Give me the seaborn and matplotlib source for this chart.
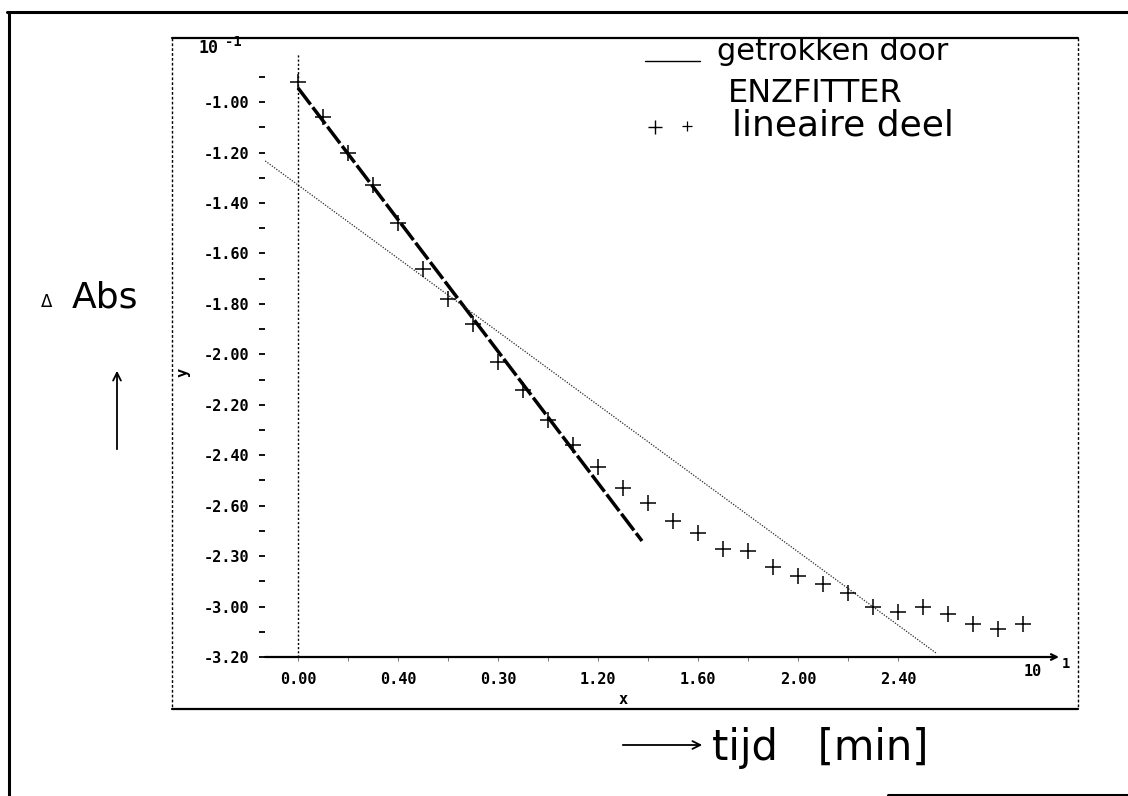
import matplotlib
matplotlib.use("Agg")
import matplotlib.pyplot as plt
from matplotlib.lines import Line2D
from matplotlib.patches import FancyArrowPatch
from matplotlib.ticker import FixedLocator, FixedFormatter
import pandas as pd
import seaborn as sns

# measured points (x in units of 10 min, y in units of 0.1 Abs)
time_x = [0.0, 0.1, 0.2, 0.3, 0.4, 0.5, 0.6, 0.7, 0.8, 0.9,
          1.0, 1.1, 1.2, 1.3, 1.4, 1.5, 1.6, 1.7, 1.8, 1.9,
          2.0, 2.1, 2.2, 2.3, 2.4, 2.5, 2.6, 2.7, 2.8, 2.9]
abs_y = [-0.92, -1.06, -1.20, -1.33, -1.48, -1.66, -1.78, -1.88, -2.03, -2.14,
         -2.26, -2.36, -2.445, -2.53, -2.59, -2.66, -2.71, -2.77, -2.78, -2.845,
         -2.88, -2.91, -2.945, -3.00, -3.02, -3.00, -3.03, -3.07, -3.09, -3.07]

# fitted lines
linear_x = [0.0, 1.376]
linear_y = [-0.944, -2.74]
enzfit_x = [-0.14, 2.556]
enzfit_y = [-1.227, -3.187]

# tick labels as printed on the scan
y_ticks = [-3.2, -3.0, -2.8, -2.6, -2.4, -2.2, -2.0, -1.8, -1.6, -1.4, -1.2, -1.0]
y_labels = ["-3.20", "-3.00", "-2.30", "-2.60", "-2.40", "-2.20", "-2.00",
            "-1.80", "-1.60", "-1.40", "-1.20", "-1.00"]
y_minor = [-3.1, -2.9, -2.7, -2.5, -2.3, -2.1, -1.9, -1.7, -1.5, -1.3, -1.1, -0.9]
x_ticks = [0.0, 0.4, 0.8, 1.2, 1.6, 2.0, 2.4]
x_labels = ["0.00", "0.40", "0.30", "1.20", "1.60", "2.00", "2.40"]
x_minor = [0.2, 0.6, 1.0, 1.4, 1.8, 2.2]

W, H = 1128, 796


def px(x, y):
    # pixel position -> figure fraction
    return x / W, 1 - y / H


sns.set_style("white")
plt.rcParams.update({"text.color": "black", "axes.labelcolor": "black",
                     "xtick.color": "black", "ytick.color": "black"})
mono = "DejaVu Sans Mono"
hand = "DejaVu Sans"

fig = plt.figure(figsize=(W / 100, H / 100), dpi=100)
ax = fig.add_axes([265 / W, 1 - 657 / H, 794 / W, 617 / H])

points = pd.DataFrame({"x": time_x, "y": abs_y})
sns.scatterplot(data=points, x="x", y="y", marker="+", s=130, color="black",
                linewidth=1.1, ax=ax, zorder=3)
sns.lineplot(x=linear_x, y=linear_y, color="black", lw=2.5, ax=ax,
             linestyle=(0, (6, 1.0)))
sns.lineplot(x=enzfit_x, y=enzfit_y, color="#2a2a2a", lw=0.9, ax=ax,
             linestyle=(0, (1, 1.2)))
ax.axvline(0, ymax=0.979, color="black", lw=1.0, linestyle=(0, (1.5, 1.5)))

ax.set_xlim(-0.132, 3.044)
ax.set_ylim(-3.20, -0.754)
for s in ax.spines.values():
    s.set_visible(False)

# x axis drawn as an arrow
ax.annotate("", xy=(1, 0), xytext=(0, 0), xycoords="axes fraction",
            arrowprops=dict(arrowstyle="->", lw=1.6, color="black",
                            shrinkA=0, shrinkB=0, mutation_scale=10))

ax.yaxis.set_major_locator(FixedLocator(y_ticks))
ax.yaxis.set_major_formatter(FixedFormatter(y_labels))
ax.yaxis.set_minor_locator(FixedLocator(y_minor))
ax.xaxis.set_major_locator(FixedLocator(x_ticks))
ax.xaxis.set_major_formatter(FixedFormatter(x_labels))
ax.xaxis.set_minor_locator(FixedLocator(x_minor))
ax.tick_params(axis="y", which="both", left=True, length=4, width=1.3,
               direction="out", pad=7, color="black", labelcolor="black")
ax.tick_params(axis="x", which="both", bottom=True, length=3, width=0.7,
               direction="out", pad=8, color="#777777", labelcolor="black")
for lab in ax.get_xticklabels() + ax.get_yticklabels():
    lab.set_fontfamily(mono)
    lab.set_fontsize(11)
    lab.set_fontweight("bold")

ax.set_ylabel("y", family=mono, fontsize=11, fontweight="bold")
ax.yaxis.set_label_coords(-0.094, 0.462)
ax.set_xlabel("x", family=mono, fontsize=11, fontweight="bold")
ax.xaxis.set_label_coords(0.451, -0.056)

fig.text(*px(209, 48), "10", family=mono, fontsize=12, fontweight="bold",
         ha="center", va="center")
fig.text(*px(233, 42), "-1", family=mono, fontsize=10, fontweight="bold",
         ha="center", va="center")
fig.text(*px(1033, 672), "10", family=mono, fontsize=11, fontweight="bold",
         ha="center", va="center")
fig.text(*px(1066, 664), "1", family=mono, fontsize=10, fontweight="bold",
         ha="center", va="center")


# page frame and plot frame
def fline(xs, ys, **kw):
    fx = [x / W for x in xs]
    fy = [1 - y / H for y in ys]
    fig.add_artist(Line2D(fx, fy, transform=fig.transFigure, color="black", **kw))


fline([9, 9], [12, 796], lw=2.2)
fline([7, 1128], [12, 12], lw=2.2)
fline([888, 1128], [795, 795], lw=2.2)
fline([172, 1078], [38, 38], lw=1.6)
fline([172, 1078], [709, 709], lw=1.6)
fline([172, 172], [38, 709], lw=1.0, linestyle=(0, (2, 1.5)))
fline([1078, 1078], [38, 709], lw=1.0, linestyle=(0, (2, 1.5)))

# handwritten legend
fline([645, 700], [61, 61], lw=1.0)
fig.add_artist(Line2D([655 / W], [1 - 127 / H], transform=fig.transFigure,
                      marker="+", ms=10, mew=1.0, color="black"))
fig.add_artist(Line2D([687 / W], [1 - 126 / H], transform=fig.transFigure,
                      marker="+", ms=7, mew=0.9, color="black"))
fig.text(*px(717, 52), "getrokken door", family=hand, fontsize=22, ha="left", va="center")
fig.text(*px(728, 93), "ENZFITTER", family=hand, fontsize=23, ha="left", va="center")
fig.text(*px(732, 125), "lineaire deel", family=hand, fontsize=26, ha="left", va="center")

# handwritten axis titles
fig.text(*px(47, 302), "Δ", family="DejaVu Sans", fontsize=12, ha="center", va="center")
fig.text(*px(105, 297), "Abs", family=hand, fontsize=26, ha="center", va="center")
fig.add_artist(FancyArrowPatch(px(117, 452), px(117, 368), transform=fig.transFigure,
                               arrowstyle="->", mutation_scale=14, lw=1.3, color="black"))
fig.add_artist(FancyArrowPatch(px(620, 745), px(705, 745), transform=fig.transFigure,
                               arrowstyle="->", mutation_scale=14, lw=1.3, color="black"))
fig.text(*px(712, 748), "tijd   [min]", family=hand, fontsize=30, ha="left", va="center")

fig.savefig("out.png", dpi=100, facecolor="white")
